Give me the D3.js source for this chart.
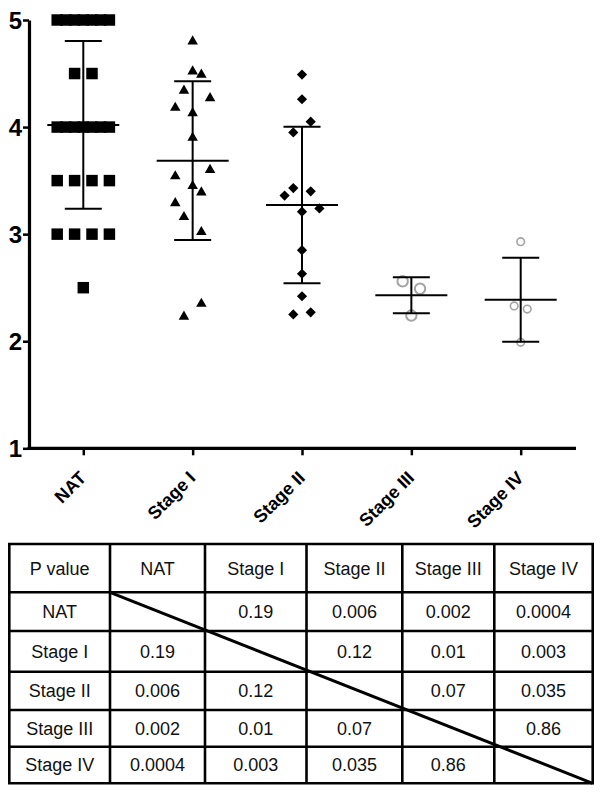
<!DOCTYPE html>
<html>
<head>
<meta charset="utf-8">
<script src="https://cdn.jsdelivr.net/npm/d3@7"></script>
<style>
  html, body { margin: 0; padding: 0; background: #fff; }
  svg { display: block; }
</style>
</head>
<body>
<script>
// ---------------- DATA ----------------
const categories = ["NAT", "Stage I", "Stage II", "Stage III", "Stage IV"];
const yTickValues = [1, 2, 3, 4, 5];

const natValues   = [5,5,5,5,5,5,5, 4.5,4.5, 4,4,4,4,4,4,4, 3.5,3.5,3.5,3.5, 3,3,3,3, 2.5];
const natSlots    = [-3,-2,-1,0,1,2,3, -1,1, -3,-2,-1,0,1,2,3, -3,-1,1,3, -3,-1,1,3, 0];

const stage1Values = [4.80, 4.52, 4.49, 4.34, 4.27, 4.18, 4.13, 3.90, 3.60, 3.54, 3.45, 3.39, 3.29, 3.16, 3.02, 2.35, 2.23];
const stage1Slots  = [0, 0, 1, -1, 2, -2, 0, 0, 2, -2, 0, 1, -2, -1, 1, 1, -1];

const stage2Values = [4.49, 4.26, 4.05, 3.95, 3.43, 3.36, 3.40, 3.24, 3.21, 2.85, 2.63, 2.42, 2.25, 2.27];
const stage2Slots  = [0, 0, 1, -1, -1, -2, 1, 2, 0, 0, 0, 0, -1, 1];

const stage3Values = [2.56, 2.49, 2.24];
const stage3Slots  = [-1, 1, 0];

const stage4Values = [2.93, 2.33, 2.30, 1.99];
const stage4Slots  = [0, -0.75, 0.75, 0];

const tableHeader = ["P value", "NAT", "Stage I", "Stage II", "Stage III", "Stage IV"];
const pNAT     = ["NAT",       "",       "0.19",  "0.006", "0.002", "0.0004"];
const pStage1  = ["Stage I",   "0.19",   "",      "0.12",  "0.01",  "0.003"];
const pStage2  = ["Stage II",  "0.006",  "0.12",  "",      "0.07",  "0.035"];
const pStage3  = ["Stage III", "0.002",  "0.01",  "0.07",  "",      "0.86"];
const pStage4  = ["Stage IV",  "0.0004", "0.003", "0.035", "0.86",  ""];

// ---------------- LAYOUT ----------------
const W = 600, H = 792;
const svg = d3.select("body").append("svg").attr("width", W).attr("height", H);
svg.append("rect").attr("width", W).attr("height", H).attr("fill", "#fff");

const FONT = "'Liberation Sans', Arial, Helvetica, sans-serif";
const axisX0 = 29, axisX1 = 576;
const y = d3.scaleLinear().domain([1, 5]).range([448.3, 20]);
const x = d3.scalePoint().domain(categories).range([83.3, 520.7]);
const slotW = 8.7;

const groups = [
  { values: natValues,    slots: natSlots,    shape: "square" },
  { values: stage1Values, slots: stage1Slots, shape: "triangle" },
  { values: stage2Values, slots: stage2Slots, shape: "diamond" },
  { values: stage3Values, slots: stage3Slots, shape: "circle", r: 5.2, sw: 2 },
  { values: stage4Values, slots: stage4Slots, shape: "circle", r: 3.8, sw: 1.6 }
];

// Y axis
const yAxis = d3.axisLeft(y).tickValues(yTickValues).tickFormat(d3.format("d"))
  .tickSize(6).tickSizeOuter(0).tickPadding(1);
const gy = svg.append("g").attr("transform", `translate(${axisX0},0)`).call(yAxis);
gy.select(".domain").attr("stroke", "#000").attr("stroke-width", 3.2);
gy.selectAll(".tick line").attr("stroke", "#000").attr("stroke-width", 2.5);
gy.selectAll(".tick text").attr("fill", "#000").style("font-family", FONT)
  .style("font-weight", "bold").style("font-size", "24px").attr("dy", "0.35em");

// X axis
svg.append("line").attr("x1", axisX0 - 1.5).attr("x2", axisX1).attr("y1", y(1)).attr("y2", y(1))
  .attr("stroke", "#000").attr("stroke-width", 3.2);
const xAxis = d3.axisBottom(x).tickSize(7).tickSizeOuter(0).tickFormat("");
const gx = svg.append("g").attr("transform", `translate(0,${y(1)})`).call(xAxis);
gx.select(".domain").remove();
gx.selectAll(".tick line").attr("stroke", "#000").attr("stroke-width", 2.5);
svg.append("g").selectAll("text").data(categories).join("text")
  .attr("transform", d => `translate(${x(d) + 4},479) rotate(-45)`)
  .attr("text-anchor", "end")
  .style("font-family", FONT).style("font-weight", "bold").style("font-size", "18px")
  .attr("fill", "#000")
  .text(d => d);

// Points
const plot = svg.append("g");
groups.forEach((g, gi) => {
  const cx = x(categories[gi]);
  const pts = g.values.map((v, i) => ({ v, s: g.slots[i] }));
  const sel = plot.append("g");
  if (g.shape === "circle") {
    sel.selectAll("circle").data(pts).join("circle")
      .attr("cx", d => cx + d.s * slotW).attr("cy", d => y(d.v)).attr("r", g.r)
      .attr("fill", "none").attr("stroke", "#a3a3a3").attr("stroke-width", g.sw);
  } else {
    let sym, rot = 0;
    if (g.shape === "square") sym = d3.symbol(d3.symbolSquare, 132);
    if (g.shape === "triangle") sym = d3.symbol(d3.symbolTriangle, 48);
    if (g.shape === "diamond") { sym = d3.symbol(d3.symbolSquare, 52); rot = 45; }
    sel.selectAll("path").data(pts).join("path")
      .attr("d", sym)
      .attr("transform", d => `translate(${cx + d.s * slotW},${y(d.v)}) rotate(${rot})`)
      .attr("fill", "#000");
  }
  // mean ± SD
  const m = d3.mean(g.values), sd = d3.deviation(g.values);
  const eb = plot.append("g").attr("stroke", "#000").attr("stroke-width", 2);
  eb.append("line").attr("x1", cx).attr("x2", cx).attr("y1", y(m + sd)).attr("y2", y(m - sd));
  eb.append("line").attr("x1", cx - 36).attr("x2", cx + 36).attr("y1", y(m)).attr("y2", y(m));
  eb.append("line").attr("x1", cx - 18.5).attr("x2", cx + 18.5).attr("y1", y(m + sd)).attr("y2", y(m + sd));
  eb.append("line").attr("x1", cx - 18.5).attr("x2", cx + 18.5).attr("y1", y(m - sd)).attr("y2", y(m - sd));
});

// ---------------- TABLE ----------------
const tableRows = [tableHeader, pNAT, pStage1, pStage2, pStage3, pStage4];
const colEdges = [9.3, 110, 205, 306.5, 402.3, 494.3, 592.7];
const rowEdges = [544, 592.3, 631, 671.7, 710, 746.7, 783.3];
const tg = svg.append("g");
tableRows.forEach((row, ri) => {
  row.forEach((txt, ci) => {
    tg.append("text")
      .attr("x", (colEdges[ci] + colEdges[ci + 1]) / 2)
      .attr("y", (rowEdges[ri] + rowEdges[ri + 1]) / 2)
      .attr("dy", "0.36em")
      .attr("text-anchor", "middle")
      .style("font-family", FONT).style("font-size", "18px")
      .attr("fill", "#111")
      .text(txt);
  });
});
const lines = tg.append("g").attr("stroke", "#000").attr("stroke-width", 2.6);
colEdges.forEach(cx => lines.append("line").attr("x1", cx).attr("x2", cx)
  .attr("y1", rowEdges[0]).attr("y2", rowEdges[rowEdges.length - 1]));
rowEdges.forEach(ry => lines.append("line").attr("y1", ry).attr("y2", ry)
  .attr("x1", colEdges[0] - 1.3).attr("x2", colEdges[colEdges.length - 1] + 1.3));
tg.append("line").attr("x1", colEdges[1]).attr("y1", rowEdges[1])
  .attr("x2", colEdges[6]).attr("y2", rowEdges[6])
  .attr("stroke", "#000").attr("stroke-width", 3);
</script>
</body>
</html>
